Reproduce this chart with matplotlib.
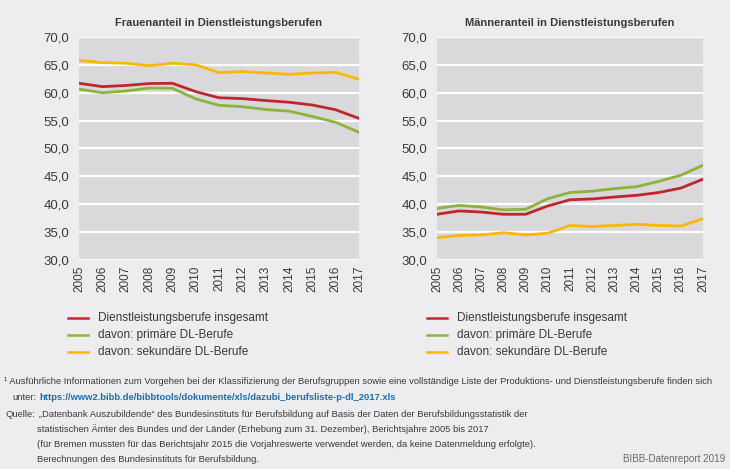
import matplotlib
matplotlib.use("Agg")
import matplotlib.pyplot as plt
from matplotlib import font_manager

years = [2005, 2006, 2007, 2008, 2009, 2010, 2011, 2012, 2013, 2014, 2015, 2016, 2017]
year_labels = [str(y) for y in years]

women_total = [61.7, 61.1, 61.3, 61.65, 61.7, 60.2, 59.1, 58.95, 58.6, 58.3, 57.8, 56.95, 55.4]
women_primary = [60.65, 60.0, 60.3, 60.85, 60.8, 58.9, 57.75, 57.5, 57.0, 56.7, 55.75, 54.7, 52.9]
women_secondary = [65.8, 65.4, 65.3, 64.85, 65.3, 65.0, 63.6, 63.8, 63.55, 63.3, 63.55, 63.65, 62.4]

men_total = [38.2, 38.8, 38.6, 38.2, 38.2, 39.7, 40.8, 40.95, 41.3, 41.6, 42.1, 42.9, 44.5]
men_primary = [39.25, 39.8, 39.5, 39.0, 39.1, 41.0, 42.1, 42.35, 42.8, 43.15, 44.1, 45.2, 47.0]
men_secondary = [34.0, 34.4, 34.5, 34.9, 34.5, 34.8, 36.2, 36.0, 36.2, 36.4, 36.2, 36.1, 37.4]

series_labels = ["Dienstleistungsberufe insgesamt", "davon: primäre DL-Berufe", "davon: sekundäre DL-Berufe"]
titles = ["Frauenanteil in Dienstleistungsberufen", "Männeranteil in Dienstleistungsberufen"]
y_ticks = [30, 35, 40, 45, 50, 55, 60, 65, 70]

colors = ["#c0272d", "#8cb43a", "#fbb800"]

available = {f.name for f in font_manager.fontManager.ttflist}
fam = "Liberation Sans Narrow" if "Liberation Sans Narrow" in available else "Liberation Sans"
plt.rcParams["font.family"] = [fam, "DejaVu Sans"]

BG = "#ededef"
AXBG = "#d9d9dc"
TXT = "#3a3a3a"

fig = plt.figure(figsize=(7.30, 4.69), dpi=100)
fig.patch.set_facecolor(BG)

axes_pos = [[79/730, 1-260/469, 280/730, 223/469], [437/730, 1-260/469, 266/730, 223/469]]
data = [[women_total, women_primary, women_secondary], [men_total, men_primary, men_secondary]]

for i in range(2):
    ax = fig.add_axes(axes_pos[i])
    ax.set_facecolor(AXBG)
    for s, c in zip(data[i], colors):
        ax.plot(years, s, color=c, lw=2.0, zorder=3)
    ax.set_xlim(years[0], years[-1])
    ax.set_ylim(30, 70)
    ax.set_yticks(y_ticks)
    ax.set_yticklabels([f"{v},0" for v in y_ticks], fontsize=9.5, color=TXT)
    ax.set_xticks(years)
    ax.set_xticklabels(year_labels, rotation=90, fontsize=8.5, color=TXT)
    ax.tick_params(axis="y", length=0, pad=7)
    ax.tick_params(axis="x", length=0, pad=4)
    ax.grid(axis="y", color="white", lw=1.6, zorder=1)
    ax.set_axisbelow(True)
    for sp in ax.spines.values():
        sp.set_visible(False)
    ax.set_title(titles[i], fontsize=8.0, fontweight="bold", color=TXT, pad=8)

# legends
leg_x = [68, 427]
leg_y = [318, 335, 352]
for lx in leg_x:
    for lab, c, yy in zip(series_labels, colors, leg_y):
        yf = 1 - yy/469
        fig.add_artist(plt.Line2D([lx/730, (lx + 20)/730], [yf, yf], color=c, lw=1.8))
        fig.text((lx + 30)/730, yf, lab, fontsize=8.5, color=TXT, va="center", ha="left")

fs = 6.75
fig.text(4/730, 1-381/469, "¹ Ausführliche Informationen zum Vorgehen bei der Klassifizierung der Berufsgruppen sowie eine vollständige Liste der Produktions- und Dienstleistungsberufe finden sich",
         fontsize=fs, color=TXT, va="center")
fig.text(12/730, 1-397/469, "unter:", fontsize=fs, color=TXT, va="center")
fig.text(39/730, 1-397/469, "https://www2.bibb.de/bibbtools/dokumente/xls/dazubi_berufsliste-p-dl_2017.xls",
         fontsize=fs, color="#1a6fb5", fontweight="bold", va="center")
fig.text(5/730, 1-414/469, "Quelle:", fontsize=fs, color=TXT, va="center")
src = ["„Datenbank Auszubildende“ des Bundesinstituts für Berufsbildung auf Basis der Daten der Berufsbildungsstatistik der",
       "statistischen Ämter des Bundes und der Länder (Erhebung zum 31. Dezember), Berichtsjahre 2005 bis 2017",
       "(für Bremen mussten für das Berichtsjahr 2015 die Vorjahreswerte verwendet werden, da keine Datenmeldung erfolgte).",
       "Berechnungen des Bundesinstituts für Berufsbildung."]
src_x = [39, 37, 37, 37]
src_y = [414, 429, 444, 459]
for t, x, y in zip(src, src_x, src_y):
    fig.text(x/730, 1-y/469, t, fontsize=fs, color=TXT, va="center")
fig.text(725/730, 1-459/469, "BIBB-Datenreport 2019", fontsize=7.1, color="#6a6a6a", va="center", ha="right")

fig.savefig("out.png", dpi=100, facecolor=BG)
